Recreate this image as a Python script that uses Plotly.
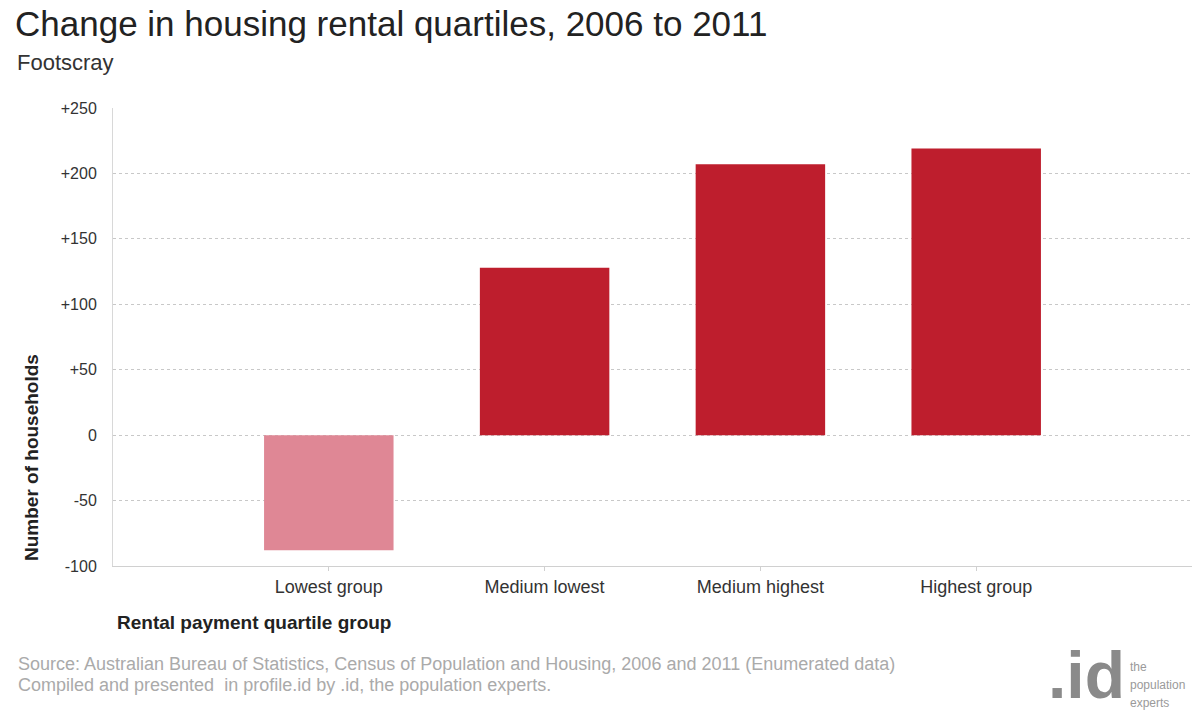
import plotly.graph_objects as go

categories = ["Lowest group", "Medium lowest", "Medium highest", "Highest group"]
values = [-88, 128, 207, 219]
bar_colors = ["#DF8795", "#BE1E2D", "#BE1E2D", "#BE1E2D"]
y_tick_vals = [-100, -50, 0, 50, 100, 150, 200, 250]
y_tick_text = ["-100", "-50", "0", "+50", "+100", "+150", "+200", "+250"]

title_text = "Change in housing rental quartiles, 2006 to 2011"
subtitle_text = "Footscray"
y_title = "Number of households"
x_title = "Rental payment quartile group"
source_lines = [
    "Source: Australian Bureau of Statistics, Census of Population and Housing, 2006 and 2011 (Enumerated data)",
    "Compiled and presented  in profile.id by .id, the population experts.",
]
logo_text = ".id"
logo_lines = ["the", "population", "experts"]

FONT = "Liberation Sans, Arial, sans-serif"

W, H = 1200, 714
L, R, T, B = 113, 8, 108, 148
PW, PH = W - L - R, H - T - B


def px(x):
    return (x - L) / PW


def py(y):
    return (H - B - y) / PH


fig = go.Figure()
fig.add_trace(go.Bar(
    x=categories, y=values,
    marker=dict(color=bar_colors, line=dict(width=0)),
    width=0.6,
    hoverinfo="x+y",
))

fig.update_layout(
    width=W, height=H,
    margin=dict(l=L, r=R, t=T, b=B),
    paper_bgcolor="white", plot_bgcolor="white",
    showlegend=False,
    font=dict(family=FONT, color="#333"),
    xaxis=dict(
        type="category", range=[-1, 4],
        showgrid=False, zeroline=False,
        showline=True, linecolor="#d0d0d0", linewidth=1,
        ticks="outside", ticklen=4, tickcolor="#d0d0d0",
        tickfont=dict(size=18, color="#333", family=FONT),
        fixedrange=True,
    ),
    yaxis=dict(
        range=[-100, 250],
        tickvals=y_tick_vals, ticktext=y_tick_text,
        showgrid=True, gridcolor="#c8c8c8", griddash="dot", gridwidth=1,
        zeroline=False,
        showline=True, linecolor="#d8d8d8", linewidth=1,
        ticks="", ticklabelstandoff=12,
        tickfont=dict(size=16, color="#333", family=FONT),
        fixedrange=True,
    ),
)

annotations = [
    dict(text=title_text, x=14, y=23, font=dict(size=35, color="#222"), xanchor="left", yanchor="middle"),
    dict(text=subtitle_text, x=16, y=62, font=dict(size=22, color="#333"), xanchor="left", yanchor="middle"),
    dict(text="<b>" + x_title + "</b>", x=116, y=622, font=dict(size=19, color="#222"), xanchor="left", yanchor="middle"),
    dict(text=source_lines[0], x=17, y=664, font=dict(size=18, color="#aaaaaa"), xanchor="left", yanchor="middle"),
    dict(text=source_lines[1], x=17, y=685, font=dict(size=18, color="#aaaaaa"), xanchor="left", yanchor="middle"),
    dict(text="<b>" + logo_text + "</b>", x=1126, y=675, font=dict(size=66, color="#8a8a8a"), xanchor="right", yanchor="middle"),
    dict(text=logo_lines[0], x=1129, y=667, font=dict(size=12, color="#9a9a9a"), xanchor="left", yanchor="middle"),
    dict(text=logo_lines[1], x=1129, y=685, font=dict(size=12, color="#9a9a9a"), xanchor="left", yanchor="middle"),
    dict(text=logo_lines[2], x=1129, y=703, font=dict(size=12, color="#9a9a9a"), xanchor="left", yanchor="middle"),
]

for a in annotations:
    fig.add_annotation(xref="paper", yref="paper", showarrow=False, borderpad=0,
                       x=px(a["x"]), y=py(a["y"]),
                       text=a["text"], font=dict(family=FONT, **a["font"]),
                       xanchor=a["xanchor"], yanchor=a["yanchor"], align="left")

fig.add_annotation(xref="paper", yref="paper", showarrow=False, borderpad=0,
                   x=px(31), y=py(458),
                   text="<b>" + y_title + "</b>", textangle=-90,
                   font=dict(family=FONT, size=19, color="#222"),
                   xanchor="center", yanchor="middle")

fig.write_html("out.html", config={"displayModeBar": False},
               post_script="document.body.style.margin='0';document.body.style.overflow='hidden';")
